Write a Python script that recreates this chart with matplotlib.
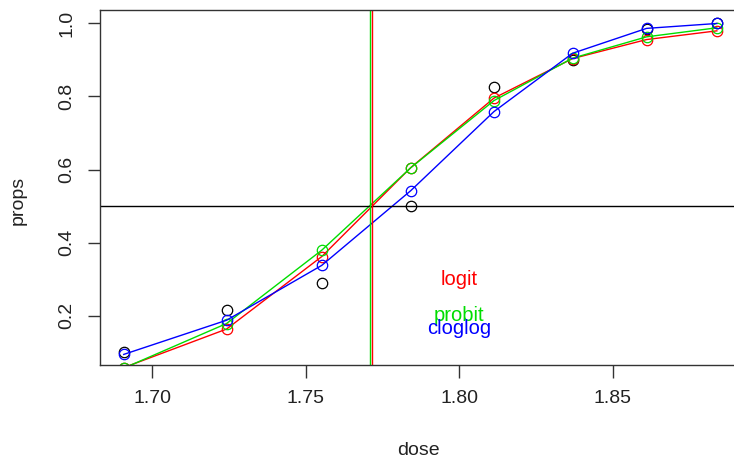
import matplotlib
matplotlib.use('Agg')
import matplotlib.pyplot as plt
import numpy as np

plt.rcParams['font.family'] = ['Liberation Sans', 'DejaVu Sans']

# beetle mortality data and fitted curves
dose = [1.6907, 1.7242, 1.7552, 1.7842, 1.8113, 1.8369, 1.8610, 1.8839]
props = [0.1017, 0.2167, 0.2903, 0.5000, 0.8254, 0.8983, 0.9839, 1.0000]
fit_logit = [0.0586, 0.1640, 0.3621, 0.6053, 0.7952, 0.9032, 0.9552, 0.9790]
fit_probit = [0.0571, 0.1791, 0.3795, 0.6048, 0.7884, 0.9043, 0.9626, 0.9873]
fit_cloglog = [0.0947, 0.1881, 0.3380, 0.5423, 0.7584, 0.9177, 0.9857, 0.9991]
ld50_logit = 1.7717
ld50_probit = 1.7708

red, green, blue = '#FF0000', '#00DD00', '#0000FF'

fig = plt.figure(figsize=(7.34, 4.61), dpi=100)
W, H = 734, 461
ax = fig.add_axes([100 / W, 1 - 365 / H, 640.6 / W, 355 / H])

# R-style 4% padding
xr = max(dose) - min(dose)
yr = max(props) - min(props)
ax.set_xlim(min(dose) - 0.04 * xr, max(dose) + 0.04 * xr)
ax.set_ylim(min(props) - 0.04 * yr, max(props) + 0.04 * yr)

mk = dict(marker='o', mfc='none', ms=7.5, mew=0.9)
ax.plot(dose, props, ls='none', color='black', **mk)
ax.plot(dose, fit_logit, color=red, lw=1, **mk)
ax.plot(dose, fit_probit, color=green, lw=1, **mk)
ax.plot(dose, fit_cloglog, color=blue, lw=1, **mk)

ax.axhline(0.5, color='black', lw=1)
ax.axvline(ld50_probit, color=green, lw=1)
ax.axvline(ld50_logit, color=red, lw=1)

ax.text(1.80, 0.30, 'logit', color=red, fontsize=14.5, ha='center', va='center')
ax.text(1.80, 0.20, 'probit', color=green, fontsize=14.5, ha='center', va='center')
ax.text(1.80, 0.166, 'cloglog', color=blue, fontsize=14.5, ha='center', va='center')

ax.set_xticks([1.70, 1.75, 1.80, 1.85])
ax.set_xticklabels(['1.70', '1.75', '1.80', '1.85'])
ax.set_yticks([0.2, 0.4, 0.6, 0.8, 1.0])
ax.set_yticklabels(['0.2', '0.4', '0.6', '0.8', '1.0'], rotation=90, va='center')
ax.tick_params(length=9, width=1, color='#333333', labelsize=14, pad=9, labelcolor='#222222')
for s in ax.spines.values():
    s.set_color('#333333')
    s.set_linewidth(1)

fig.text(418 / W, 1 - 450 / H, 'dose', fontsize=14, ha='center', va='center', color='#222222')
fig.text(18 / W, 1 - 200 / H, 'props', fontsize=14, ha='center', va='center', rotation=90, color='#222222')

fig.savefig('out.png', dpi=100)
